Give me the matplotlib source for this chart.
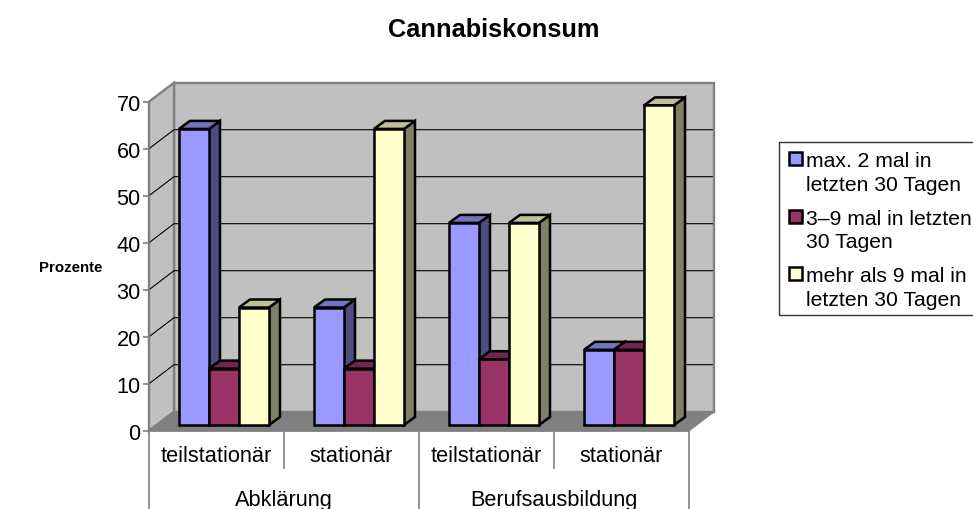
import numpy as np
import matplotlib
matplotlib.use("Agg")
import matplotlib.pyplot as plt
from matplotlib.patches import Polygon, Rectangle

plt.rcParams['font.family'] = ['Liberation Sans', 'DejaVu Sans']

# Values
groups = ['Abklärung', 'Berufsausbildung']
categories = ['teilstationär', 'stationär', 'teilstationär', 'stationär']
series_names = ['max. 2 mal in\nletzten 30 Tagen', '3–9 mal in letzten\n30 Tagen', 'mehr als 9 mal in\nletzten 30 Tagen']
max_2 = [63, 25, 43, 16]
mal_3_9 = [12, 12, 14, 16]
mehr_9 = [25, 63, 43, 68]
yticks = [0, 10, 20, 30, 40, 50, 60, 70]

front_colors = ['#9999FF', '#993366', '#FFFFCC']
side_colors = ['#4D4D80', '#73264D', '#808066']
top_colors = ['#7373BF', '#73264D', '#BFBF99']

W, H = 973, 510
fig = plt.figure(figsize=(W / 100, H / 100), dpi=100)

# axes covers the front of the 3d box, everything else is offset from it
left, right, bottom, top = 149, 689, 431.7, 102.7
ax = fig.add_axes([left / W, 1 - bottom / H, (right - left) / W, (bottom - top) / H])
ax.set_xlim(0, 4)
ax.set_ylim(0, 70)
ax.patch.set_visible(False)

px_x = 4 / (right - left)  # one pixel in data units
px_y = 70 / (bottom - top)
depth_x, depth_y = 25 * px_x, 19 * px_y

gray = '#808080'

# walls and floor
ax.add_patch(Polygon([(depth_x, depth_y), (4 + depth_x, depth_y), (4 + depth_x, 70 + depth_y), (depth_x, 70 + depth_y)],
                     fc='#C0C0C0', ec=gray, lw=1.7, clip_on=False, zorder=1))
ax.add_patch(Polygon([(0, 0), (depth_x, depth_y), (depth_x, 70 + depth_y), (0, 70)],
                     fc='#C0C0C0', ec=gray, lw=1.7, clip_on=False, zorder=1))
ax.add_patch(Polygon([(0, 0), (4, 0), (4 + depth_x, depth_y), (depth_x, depth_y)],
                     fc=gray, ec=gray, lw=1, clip_on=False, zorder=1))

# gridlines
for v in yticks[1:-1]:
    ax.plot([0, depth_x, 4 + depth_x - 1 * px_x], [v, v + depth_y, v + depth_y], color='black', lw=0.8,
            clip_on=False, zorder=2, solid_capstyle='butt')

# bars
bar_w = 30 * px_x
gap = 30 * px_x
base = 5.7 * px_y
bar_dx, bar_dy = 11 * px_x, 8 * px_y
for s, values in enumerate([max_2, mal_3_9, mehr_9]):
    for c, v in enumerate(values):
        x0 = c + gap + s * bar_w
        x1 = x0 + bar_w
        y0 = base
        y1 = base + v
        ax.add_patch(Polygon([(x1, y0), (x1 + bar_dx, y0 + bar_dy), (x1 + bar_dx, y1 + bar_dy), (x1, y1)],
                             fc=side_colors[s], ec='black', lw=1.8, clip_on=False, zorder=3, joinstyle='miter'))
        ax.add_patch(Polygon([(x0, y1), (x1, y1), (x1 + bar_dx, y1 + bar_dy), (x0 + bar_dx, y1 + bar_dy)],
                             fc=top_colors[s], ec='black', lw=1.8, clip_on=False, zorder=3, joinstyle='miter'))
        ax.add_patch(Rectangle((x0, y0), bar_w, v, fc=front_colors[s], ec='black', lw=1.8,
                               clip_on=False, zorder=3, joinstyle='miter'))

# axes
for name in ['top', 'right', 'bottom']:
    ax.spines[name].set_visible(False)
ax.spines['left'].set_color(gray)
ax.spines['left'].set_linewidth(1.2)
ax.set_yticks(yticks)
ax.set_xticks([])
ax.tick_params(axis='y', length=4, width=1.2, color=gray, labelsize=15.7, pad=2, labelcolor='black')

# two level category axis
ax.plot([0, 4], [0, 0], color=gray, lw=1.2, clip_on=False, zorder=2)
for x in [0, 2, 4]:
    ax.plot([x, x], [0, -78.3 * px_y], color=gray, lw=1.2, clip_on=False, solid_capstyle='butt')
for x in [1, 3]:
    ax.plot([x, x], [0, -38 * px_y], color=gray, lw=1.2, clip_on=False, solid_capstyle='butt')
for c, label in enumerate(categories):
    ax.text(c + 0.5, -25 * px_y, label, ha='center', va='center', fontsize=15.7, clip_on=False)
for g, label in enumerate(groups):
    ax.text(g * 2 + 1, -68.5 * px_y, label, ha='center', va='center', fontsize=15.7, clip_on=False)

# titles
fig.text(494 / W, 1 - 30 / H, 'Cannabiskonsum', ha='center', va='center', fontsize=18.3, fontweight='bold')
fig.text(71 / W, 1 - 268 / H, 'Prozente', ha='center', va='center', fontsize=10.8, fontweight='bold')

# legend, runs off the right side of the picture
fig.add_artist(Rectangle((779 / W, 1 - 316 / H), 220 / W, 173 / H, transform=fig.transFigure,
                         fc='white', ec='#333333', lw=1))
for s, name in enumerate(series_names):
    y_mid = 173.5 + s * 57.5
    fig.add_artist(Rectangle((789 / W, 1 - (y_mid - 7.5) / H), 13 / W, 13 / H, transform=fig.transFigure,
                             fc=front_colors[s], ec='black', lw=1.8, joinstyle='miter'))
    fig.text(806 / W, 1 - y_mid / H, name, ha='left', va='center', fontsize=15.2, linespacing=1.3)

fig.savefig('out.png', dpi=100)
